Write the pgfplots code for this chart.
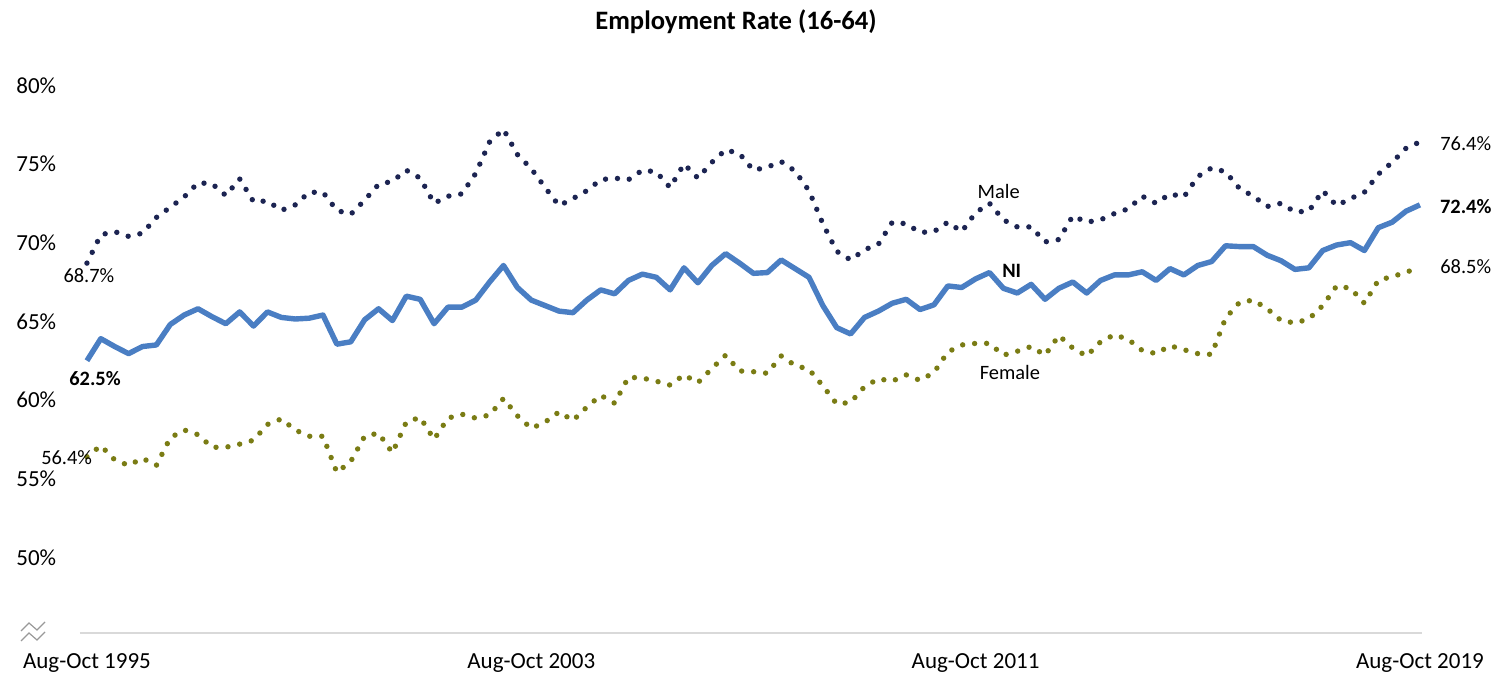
\documentclass[border=0pt]{standalone}
\usepackage{fontspec}
\setmainfont{Carlito}
\usepackage{pgfplots}
\pgfplotsset{compat=1.18}

\definecolor{niblue}{HTML}{4A7EC3}
\definecolor{malenavy}{HTML}{1C2452}
\definecolor{femaleolive}{HTML}{7A7C14}
\definecolor{axisgrey}{HTML}{D9D9D9}

% quarterly rates, Aug-Oct 1995 (0) to Aug-Oct 2019 (96)
\pgfplotstableread{
q ni male female
0 62.5 68.7 56.4
1 63.9 70.5 57.1
2 63.4 70.7 56.2
3 62.95 70.4 55.85
4 63.4 70.6 56.3
5 63.5 71.6 55.85
6 64.8 72.25 57.6
7 65.4 72.9 58.1
8 65.8 73.8 57.8
9 65.3 73.75 57.0
10 64.85 73.0 57.0
11 65.6 74.05 57.2
12 64.7 72.6 57.45
13 65.6 72.65 58.45
14 65.25 72.05 58.8
15 65.15 72.4 58.1
16 65.2 73.2 57.7
17 65.4 73.2 57.7
18 63.55 72.05 55.4
19 63.7 71.8 56.1
20 65.1 72.7 57.7
21 65.8 73.7 57.9
22 65.05 73.9 56.65
23 66.6 74.6 58.6
24 66.4 74.1 58.9
25 64.85 72.5 57.5
26 65.9 72.95 58.85
27 65.9 73.1 59.1
28 66.35 74.4 58.85
29 67.5 76.4 59.05
30 68.55 77.2 60.1
31 67.15 75.6 59.0
32 66.35 74.7 58.2
33 66.0 73.5 58.6
34 65.65 72.35 59.25
35 65.55 72.8 58.7
36 66.35 73.3 59.55
37 67.0 74.0 60.3
38 66.75 74.1 59.8
39 67.6 74.0 61.45
40 68.0 74.6 61.4
41 67.8 74.5 61.2
42 67.0 73.5 60.95
43 68.4 75.0 61.6
44 67.45 74.1 61.1
45 68.55 75.1 62.0
46 69.3 75.9 62.85
47 68.7 75.65 61.85
48 68.05 74.6 61.8
49 68.1 74.8 61.7
50 68.9 75.15 62.8
51 68.35 74.55 62.2
52 67.8 73.3 61.95
53 66.0 71.2 60.9
54 64.6 69.45 59.75
55 64.2 68.9 59.85
56 65.25 69.55 60.85
57 65.65 69.9 61.35
58 66.15 71.3 61.2
59 66.4 71.2 61.6
60 65.75 70.65 61.25
61 66.05 70.7 61.75
62 67.25 71.3 63.05
63 67.15 70.7 63.5
64 67.7 71.9 63.6
65 68.1 72.5 63.6
66 67.1 71.45 62.85
67 66.8 71.0 63.1
68 67.35 71.0 63.4
69 66.4 70.05 62.85
70 67.1 70.2 64.1
71 67.5 71.7 63.3
72 66.8 71.3 62.8
73 67.6 71.45 63.7
74 67.95 71.85 64.15
75 67.95 72.15 63.85
76 68.15 72.95 63.15
77 67.6 72.5 62.95
78 68.35 73.1 63.45
79 67.95 72.9 63.2
80 68.55 74.2 62.95
81 68.8 74.75 62.9
82 69.8 74.5 65.2
83 69.75 73.45 66.2
84 69.75 72.95 66.35
85 69.2 72.3 65.8
86 68.85 72.5 65.05
87 68.3 71.95 64.9
88 68.4 72.0 65.15
89 69.5 73.3 66.0
90 69.85 72.35 67.25
91 70.0 72.8 67.1
92 69.5 73.2 66.15
93 70.95 74.35 67.6
94 71.3 75.1 67.85
95 72.0 76.0 68.1
96 72.4 76.4 68.5
}\emp

\begin{document}
\begin{tikzpicture}[x=0.5pt,y=0.5pt]
  \useasboundingbox (0,0) rectangle (1504,678);
  \node[font=\bfseries\fontsize{13.3}{16}\selectfont] at (736,656) {Employment Rate (16-64)};
  \begin{axis}[
      at={(40pt,22.5pt)}, anchor=south west,
      scale only axis,
      width=671pt, height=277.8pt,
      xmin=-0.5, xmax=96.15,
      ymin=45.2, ymax=80.5,
      clip=false,
      axis x line*=bottom,
      axis y line*=left,
      y axis line style={draw=none},
      x axis line style={draw=axisgrey, line width=0.8pt},
      xtick={0,32,64,96},
      xticklabels={Aug-Oct 1995,Aug-Oct 2003,Aug-Oct 2011,Aug-Oct 2019},
      ytick={50,55,60,65,70,75,80},
      yticklabels={50\%,55\%,60\%,65\%,70\%,75\%,80\%},
      major tick length=0pt,
      tick style={draw=none},
      ticklabel style={font=\fontsize{11.5}{13}\selectfont},
      xticklabel style={inner sep=0pt, anchor=north, yshift=-10pt},
      yticklabel style={inner sep=0pt, anchor=west, xshift=-32pt},
    ]
    \addplot[malenavy, line width=2.7pt, line cap=round,
      dash pattern=on 0pt off 6pt] table[x=q, y=male] {\emp};
    \addplot[femaleolive, line width=2.7pt, line cap=round,
      dash pattern=on 0pt off 6pt] table[x=q, y=female] {\emp};
    \addplot[niblue, line width=2.7pt, line join=round] table[x=q, y=ni] {\emp};

    \begin{scope}[font=\fontsize{10.2}{12}\selectfont]
      \node at (axis cs:0.14,67.88) {68.7\%};
      \node[font=\bfseries\fontsize{10.2}{12}\selectfont] at (axis cs:0.58,61.37) {62.5\%};
      \node at (axis cs:-1.46,56.37) {56.4\%};
      \node at (axis cs:99.3,76.3) {76.4\%};
      \node[font=\bfseries\fontsize{10.2}{12}\selectfont] at (axis cs:99.3,72.31) {72.4\%};
      \node at (axis cs:99.3,68.46) {68.5\%};
      \node at (axis cs:65.66,73.28) {Male};
      \node[font=\bfseries\fontsize{10.2}{12}\selectfont] at (axis cs:66.6,68.2) {NI};
      \node at (axis cs:66.47,61.72) {Female};
    \end{scope}
  \end{axis}
  % axis break mark
  \draw[gray!80, line width=0.6pt] (21,47) -- (29,55) -- (37,48) -- (45,56);
  \draw[gray!80, line width=0.6pt] (21,37) -- (29,45) -- (37,38) -- (45,46);
\end{tikzpicture}
\end{document}
